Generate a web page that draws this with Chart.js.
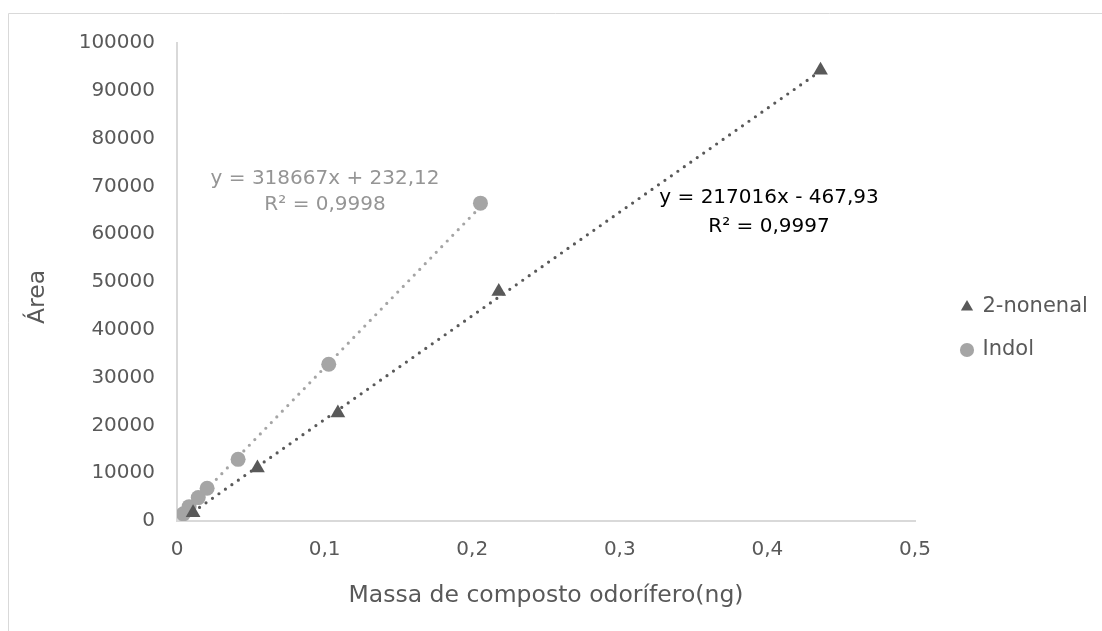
<!DOCTYPE html>
<html>
<head>
<meta charset="utf-8">
<script src="https://cdn.jsdelivr.net/npm/chart.js@4"></script>
<style>
  html, body { margin: 0; padding: 0; background: #fff; }
  #wrap { width: 1102px; height: 631px; position: relative; }
</style>
</head>
<body>
<div id="wrap"><canvas id="calibChart"></canvas></div>
<script>
// 2-nonenal standards
const nonenalMass = [0.0109, 0.0545, 0.109, 0.218, 0.436];
const nonenalArea = [1700, 11100, 22600, 48000, 94300];

// Indol standards
const indolMass = [0.0043, 0.0082, 0.0144, 0.0204, 0.0414, 0.1028, 0.2056];
const indolArea = [1500, 3000, 4900, 6850, 12900, 32800, 66500];

// linear fits: slope, intercept, R²
const nonenalFit = [217016, -467.93, 0.9997];
const indolFit = [318667, 232.12, 0.9998];

const xTicks = [0, 0.1, 0.2, 0.3, 0.4, 0.5];

const FONT = '"DejaVu Sans", sans-serif';
const DARK = '#595959';
const LIGHT = '#a5a5a5';

function toPoints(xs, ys) {
  return xs.map((x, i) => ({ x: x, y: ys[i] }));
}

function fitLine(xs, fit) {
  const x0 = Math.min(...xs), x1 = Math.max(...xs);
  return [{ x: x0, y: fit[0] * x0 + fit[1] }, { x: x1, y: fit[0] * x1 + fit[1] }];
}

function comma(v) {
  return String(v).replace('.', ',');
}

// legend sits a bit right of the plot, with a fixed width
const legendPos = {
  id: 'legendPos',
  beforeLayout(chart) {
    const lg = chart.legend;
    if (lg && !lg._fixed) {
      const orig = lg.update;
      lg.update = function (...args) {
        orig.apply(this, args);
        this.width = 187;
      };
      lg._fixed = true;
    }
  },
  afterLayout(chart) {
    const lg = chart.legend;
    lg.left += 25;
    lg.right += 25;
  }
};

// outer frame + trendline equations
const extras = {
  id: 'extras',
  beforeDraw(chart) {
    const ctx = chart.ctx;
    ctx.save();
    ctx.strokeStyle = '#d9d9d9';
    ctx.lineWidth = 1;
    ctx.beginPath();
    ctx.moveTo(8.5, 700);
    ctx.lineTo(8.5, 13.5);
    ctx.lineTo(1200, 13.5);
    ctx.stroke();
    ctx.restore();
  },
  afterDatasetsDraw(chart) {
    const ctx = chart.ctx;
    const xs = chart.scales.x, ys = chart.scales.y;
    ctx.save();
    ctx.font = '20px ' + FONT;
    ctx.textAlign = 'center';
    ctx.textBaseline = 'middle';

    ctx.fillStyle = '#959595';
    let cx = xs.getPixelForValue(0.1003);
    ctx.fillText('y = ' + indolFit[0] + 'x + ' + comma(indolFit[1]), cx, ys.getPixelForValue(71550));
    ctx.fillText('R² = ' + comma(indolFit[2]), cx, ys.getPixelForValue(66110));

    ctx.fillStyle = '#000';
    cx = xs.getPixelForValue(0.4011);
    ctx.fillText('y = ' + nonenalFit[0] + 'x - ' + comma(Math.abs(nonenalFit[1])), cx, ys.getPixelForValue(67570));
    ctx.fillText('R² = ' + comma(nonenalFit[2]), cx, ys.getPixelForValue(61510));
    ctx.restore();
  }
};

new Chart(document.getElementById('calibChart').getContext('2d'), {
  type: 'scatter',
  data: {
    datasets: [
      {
        label: '2-nonenal',
        data: toPoints(nonenalMass, nonenalArea),
        pointStyle: 'triangle',
        pointRadius: 8.5,
        backgroundColor: DARK,
        borderColor: DARK,
        borderWidth: 0,
        order: 1
      },
      {
        label: 'Indol',
        data: toPoints(indolMass, indolArea),
        pointStyle: 'circle',
        pointRadius: 7.5,
        backgroundColor: LIGHT,
        borderColor: LIGHT,
        borderWidth: 0,
        order: 1
      },
      {
        label: 'trend-nonenal',
        type: 'line',
        data: fitLine(nonenalMass, nonenalFit),
        borderColor: DARK,
        borderWidth: 3.2,
        borderDash: [0, 7.9],
        borderCapStyle: 'round',
        pointRadius: 0,
        fill: false,
        order: 2
      },
      {
        label: 'trend-indol',
        type: 'line',
        data: fitLine(indolMass, indolFit),
        borderColor: LIGHT,
        borderWidth: 3.2,
        borderDash: [0, 7.9],
        borderCapStyle: 'round',
        pointRadius: 0,
        fill: false,
        order: 2
      }
    ]
  },
  plugins: [legendPos, extras],
  options: {
    responsive: true,
    maintainAspectRatio: false,
    animation: false,
    layout: { padding: { top: 43, left: 8, right: 0, bottom: 17 } },
    plugins: {
      tooltip: { enabled: false },
      legend: {
        position: 'right',
        labels: {
          filter: item => !item.text.startsWith('trend'),
          usePointStyle: true,
          boxWidth: 10,
          boxHeight: 10,
          padding: 22,
          color: DARK,
          font: { family: FONT, size: 21 }
        }
      }
    },
    scales: {
      x: {
        type: 'linear',
        min: 0,
        max: 0.5,
        afterBuildTicks: s => { s.ticks = xTicks.map(v => ({ value: v })); },
        afterFit: s => { s.height = 93; },
        grid: { display: false, drawTicks: false },
        border: { color: '#d9d9d9', width: 2 },
        ticks: {
          color: DARK,
          padding: 17,
          font: { family: FONT, size: 20 },
          callback: v => comma(v)
        },
        title: {
          display: true,
          text: 'Massa de composto odorífero(ng)',
          color: DARK,
          font: { family: FONT, size: 23.5 }
        }
      },
      y: {
        min: 0,
        max: 100000,
        afterFit: s => { s.width = 169; },
        grid: { display: false, drawTicks: false },
        border: { color: '#d9d9d9', width: 2 },
        ticks: {
          stepSize: 10000,
          color: DARK,
          padding: 22,
          font: { family: FONT, size: 20 },
          callback: v => String(v)
        },
        title: {
          display: true,
          text: 'Área    ',
          color: DARK,
          font: { family: FONT, size: 23.5 },
          padding: { top: 16, bottom: 4 }
        }
      }
    }
  }
});
</script>
</body>
</html>
